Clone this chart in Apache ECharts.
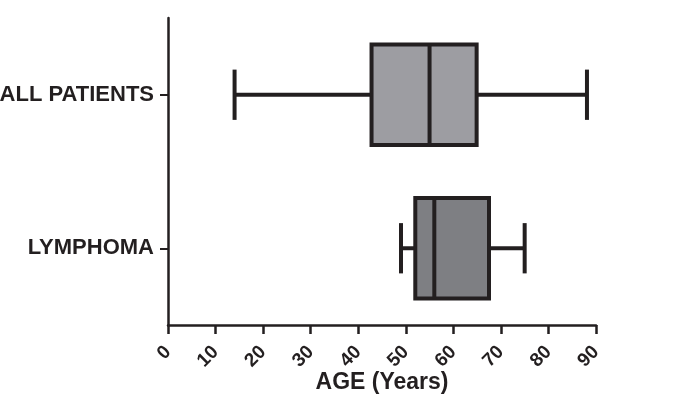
<!DOCTYPE html>
<html>
<head>
<meta charset="utf-8">
<script src="https://cdn.jsdelivr.net/npm/echarts@6/dist/echarts.min.js"></script>
<style>
html, body { margin: 0; padding: 0; background: #fff; }
#chart { width: 700px; height: 398px; }
</style>
</head>
<body>
<div id="chart"></div>
<script>
// 分组 (y 轴从下往上)
var groups = ['LYMPHOMA', 'ALL PATIENTS'];
// 箱线图五个数: 最小, 下四分位, 中位数, 上四分位, 最大
var minVals = [49, 14];
var q1Vals = [52, 42.8];
var medVals = [56, 55];
var q3Vals = [67.5, 64.9];
var maxVals = [75, 88.1];
var boxColors = ['#7e7f83', '#9d9da2'];

var lineColor = '#231f20';
var fontName = '"Liberation Sans", Arial, sans-serif';

var data = [];
for (var i = 0; i < groups.length; i++) {
    data.push([i, minVals[i], q1Vals[i], medVals[i], q3Vals[i], maxVals[i]]);
}

// 自己画箱体, 须线端头只有箱高的一半
function renderBox(params, api) {
    var cat = api.value(0);
    var pMin = api.coord([api.value(1), cat]);
    var pQ1 = api.coord([api.value(2), cat]);
    var pMed = api.coord([api.value(3), cat]);
    var pQ3 = api.coord([api.value(4), cat]);
    var pMax = api.coord([api.value(5), cat]);
    var band = api.size([0, 1])[1];
    var boxH = band * 0.655;
    var capH = boxH / 2;
    var y = pMed[1];
    var st = { stroke: lineColor, lineWidth: 4, fill: null };
    return {
        type: 'group',
        children: [
            { type: 'line', shape: { x1: pMin[0], y1: y, x2: pQ1[0], y2: y }, style: st },
            { type: 'line', shape: { x1: pQ3[0], y1: y, x2: pMax[0], y2: y }, style: st },
            { type: 'line', shape: { x1: pMin[0], y1: y - capH / 2, x2: pMin[0], y2: y + capH / 2 }, style: st },
            { type: 'line', shape: { x1: pMax[0], y1: y - capH / 2, x2: pMax[0], y2: y + capH / 2 }, style: st },
            {
                type: 'rect',
                shape: { x: pQ1[0], y: y - boxH / 2, width: pQ3[0] - pQ1[0], height: boxH },
                style: { fill: boxColors[cat], stroke: lineColor, lineWidth: 4 }
            },
            { type: 'line', shape: { x1: pMed[0], y1: y - boxH / 2, x2: pMed[0], y2: y + boxH / 2 }, style: st }
        ]
    };
}

var myChart = echarts.init(document.getElementById('chart'));

var option = {
    animation: false,
    backgroundColor: '#fff',
    grid: { left: 168, right: 104, top: 18, bottom: 73, containLabel: false, outerBoundsMode: 'none' },
    xAxis: {
        type: 'value',
        min: 0,
        max: 90,
        interval: 10,
        name: 'AGE (Years)',
        nameLocation: 'middle',
        nameGap: 46,
        nameMoveOverlap: false,
        nameTextStyle: { fontFamily: fontName, fontWeight: 'bold', fontSize: 23, color: lineColor },
        axisLine: { show: true, lineStyle: { color: lineColor, width: 2.5 } },
        axisTick: { show: true, length: 9, lineStyle: { color: lineColor, width: 2.5 } },
        axisLabel: { rotate: 45, margin: 24, fontFamily: fontName, fontWeight: 'bold', fontSize: 19, color: lineColor },
        splitLine: { show: false }
    },
    yAxis: {
        type: 'category',
        data: groups,
        axisLine: { show: true, lineStyle: { color: lineColor, width: 2.5 } },
        axisTick: { show: true, alignWithLabel: true, length: 8, lineStyle: { color: lineColor, width: 2 } },
        axisLabel: { margin: 14, fontFamily: fontName, fontWeight: 'bold', fontSize: 22, color: lineColor },
        splitLine: { show: false }
    },
    series: [{
        type: 'custom',
        renderItem: renderBox,
        encode: { x: [1, 2, 3, 4, 5], y: 0 },
        data: data
    }]
};

myChart.setOption(option);
</script>
</body>
</html>
